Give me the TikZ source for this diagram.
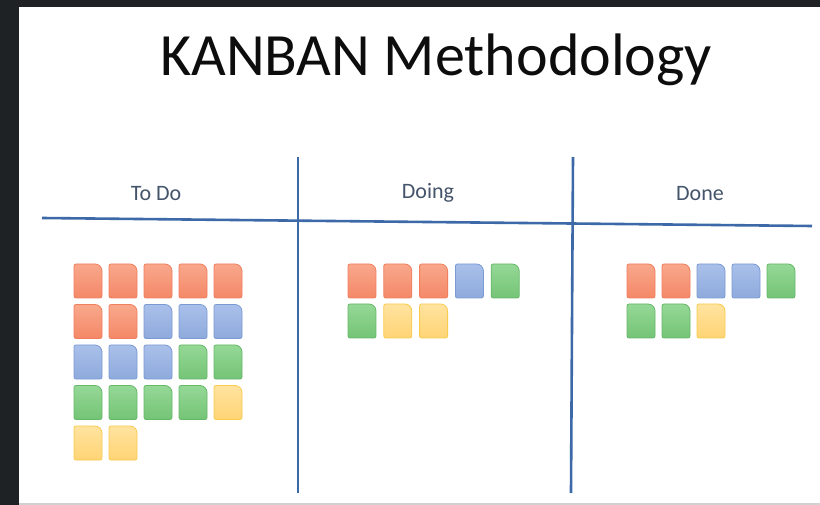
\documentclass[tikz,border=0pt]{standalone}
\usepackage{fontspec}
\setmainfont{Carlito}
\definecolor{frame}{HTML}{1E2225}
\definecolor{rule}{HTML}{3D69A8}
\definecolor{labelc}{HTML}{44546A}
\definecolor{oTop}{HTML}{F9A88C}\definecolor{oBot}{HTML}{F48867}\definecolor{oLine}{HTML}{F07F5E}
\definecolor{bTop}{HTML}{A9C0EA}\definecolor{bBot}{HTML}{8EAADC}\definecolor{bLine}{HTML}{7B9AD3}
\definecolor{gTop}{HTML}{95D897}\definecolor{gBot}{HTML}{74C476}\definecolor{gLine}{HTML}{66B869}
\definecolor{yTop}{HTML}{FFE39F}\definecolor{yBot}{HTML}{FFD475}\definecolor{yLine}{HTML}{F9CB4E}
\tikzset{
  cardO/.style={top color=oTop,bottom color=oBot,draw=oLine},
  cardB/.style={top color=bTop,bottom color=bBot,draw=bLine},
  cardG/.style={top color=gTop,bottom color=gBot,draw=gLine},
  cardY/.style={top color=yTop,bottom color=yBot,draw=yLine},
  pics/card/.style={code={
    \path[card#1,line width=0.8pt]
      (0,-2pt) -- (0,-32pt) arc[start angle=180,end angle=270,radius=2pt]
      -- (26pt,-34pt) arc[start angle=270,end angle=360,radius=2pt]
      -- (28pt,-7pt) arc[start angle=0,end angle=90,radius=7pt]
      -- (2pt,0) arc[start angle=90,end angle=180,radius=2pt] -- cycle;
  }},
  boardrule/.style={draw=rule,line width=2.6pt},
  collabel/.style={font=\fontsize{22}{26}\selectfont,text=labelc,anchor=base,inner sep=0pt},
}
\begin{document}
\begin{tikzpicture}[x=1pt,y=1pt]
  % screen frame and slide
  \fill[frame] (0,0) rectangle (820,-505);
  \fill[white] (19,-7) rectangle (820,-503);
  \fill[black!18] (19,-503) rectangle (820,-505);
  \useasboundingbox (0,0) rectangle (820,-505);

  % title
  \node[font=\fontsize{60}{70}\selectfont,text=black!95,anchor=base,inner sep=0pt]
    (title) at (436,-76) {KANBAN Methodology};

  % column headers
  \node[collabel] (todo)  at (156,-201) {To Do};
  \node[collabel] (doing) at (428,-199) {Doing};
  \node[collabel] (done)  at (700,-201) {Done};

  % board rules
  \coordinate (hl) at (42,-218);
  \coordinate (hr) at (812,-226);
  \coordinate (v1t) at (298,-157);
  \coordinate (v1b) at (298,-493);
  \coordinate (v2t) at (573,-157);
  \coordinate (v2b) at (571,-493);
  \draw[boardrule] (hl) -- (hr);
  \draw[boardrule] (v1t) -- (v1b);
  \draw[boardrule] (v2t) -- (v2b);

  % To Do cards
  \foreach \c [count=\i from 0] in {O,O,O,O,O,O,O,B,B,B,B,B,B,G,G,G,G,G,G,Y,Y,Y}{
    \pgfmathtruncatemacro\col{mod(\i,5)}
    \pgfmathtruncatemacro\row{div(\i,5)}
    \pgfmathsetmacro\px{74+35*\col}
    \pgfmathsetmacro\py{-(264+40.5*\row)}
    \pic (todo\i) at (\px,\py) {card=\c};
  }
  % Doing cards
  \foreach \c [count=\i from 0] in {O,O,O,B,G,G,Y,Y}{
    \pgfmathtruncatemacro\col{mod(\i,5)}
    \pgfmathtruncatemacro\row{div(\i,5)}
    \pgfmathsetmacro\px{348+35.8*\col}
    \pgfmathsetmacro\py{-(264+40*\row)}
    \pic (doing\i) at (\px,\py) {card=\c};
  }
  % Done cards
  \foreach \c [count=\i from 0] in {O,O,B,B,G,G,G,Y}{
    \pgfmathtruncatemacro\col{mod(\i,5)}
    \pgfmathtruncatemacro\row{div(\i,5)}
    \pgfmathsetmacro\px{627+35*\col}
    \pgfmathsetmacro\py{-(264+40*\row)}
    \pic (done\i) at (\px,\py) {card=\c};
  }
\end{tikzpicture}
\end{document}
